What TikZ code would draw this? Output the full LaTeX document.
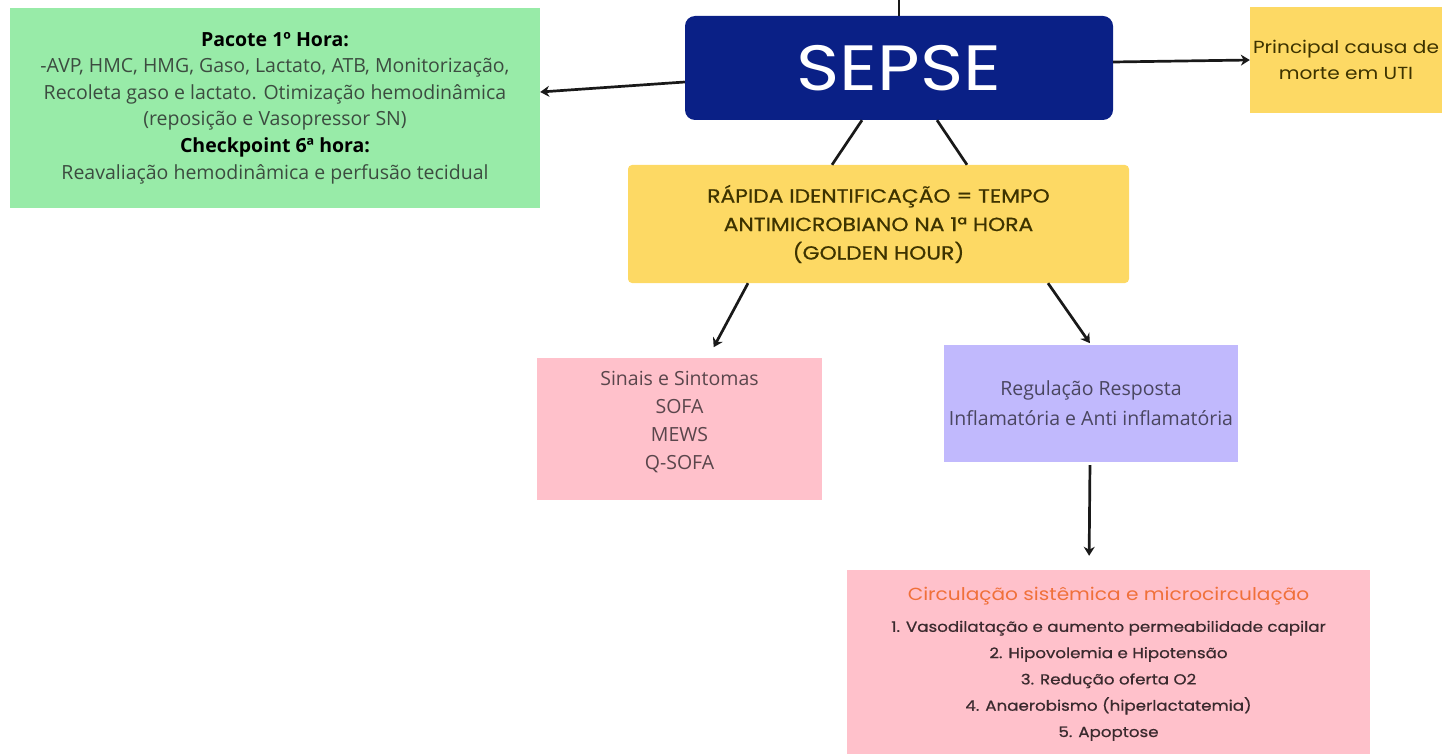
\documentclass[tikz,border=0pt]{standalone}
\usepackage{fontspec}
\setmainfont{Open Sans}
\newfontfamily\popW[FakeStretch=1.15]{Poppins}
\newfontfamily\popM[FakeStretch=1.15,FakeBold=0.6]{Poppins}
\newfontfamily\opn{Open Sans}
\usetikzlibrary{arrows.meta}
\definecolor{gbox}{HTML}{98EBA8}
\definecolor{navy}{HTML}{0A2086}
\definecolor{ybox}{HTML}{FDD964}
\definecolor{pbox}{HTML}{FFC1CB}
\definecolor{lbox}{HTML}{C1B9FD}
\definecolor{gtext}{HTML}{3C4C40}
\definecolor{ytext}{HTML}{3D3300}
\definecolor{ptext}{HTML}{5A464C}
\definecolor{ltext}{HTML}{4A4660}
\definecolor{otext}{HTML}{F0703A}
\definecolor{btext}{HTML}{3A2A2E}
\tikzset{
  box/.style={inner sep=0pt, align=center, anchor=center},
  txt/.style={inner sep=0pt, align=center, anchor=center},
  conn/.style={line width=2.7pt, black!90},
  arr/.style={conn, -{Stealth[length=9pt,width=11pt]}},
}
\begin{document}
\begin{tikzpicture}[x=1pt,y=-1pt]
\useasboundingbox (0,0) rectangle (1456,754);
% boxes
\node[box, fill=gbox, minimum width=530pt, minimum height=200pt, font=\opn\fontsize{19.5}{26.6}\selectfont, text=gtext] (green) at (275,108)
 {\textbf{\color{black}Pacote 1º Hora:}\\-AVP, HMC, HMG, Gaso, Lactato, ATB, Monitorização,\\Recoleta gaso e lactato. Otimização hemodinâmica\\(reposição e Vasopressor SN)\\\textbf{\color{black}Checkpoint 6ª hora:}\\Reavaliação hemodinâmica e perfusão tecidual};
\node[box, fill=navy, rounded corners=10pt, minimum width=428pt, minimum height=104pt, text=white, font=\popW\fontsize{64}{70}\selectfont] (sepse) at (899,68) {SEPSE};
\node[box, fill=ybox, minimum width=192pt, minimum height=106pt, text=ytext, font=\popW\fontsize{17.5}{26}\selectfont] (causa) at (1346,60) {Principal causa de\\morte em UTI};
\node[box, fill=ybox, rounded corners=4pt, minimum width=501pt, minimum height=118pt, text=ytext, font=\popM\fontsize{19}{28.5}\selectfont] (mid) at (878.5,224) {RÁPIDA IDENTIFICAÇÃO = TEMPO\\ANTIMICROBIANO NA 1ª HORA\\(GOLDEN HOUR)};
\node[box, fill=pbox, minimum width=285pt, minimum height=142pt] (sinais) at (679.5,429) {};
\node[txt, text=ptext, font=\opn\fontsize{19.5}{28}\selectfont] (sinaisT) at (679.5,422) {Sinais e Sintomas\\SOFA\\MEWS\\Q-SOFA};
\node[box, fill=lbox, minimum width=294pt, minimum height=117pt, text=ltext, font=\opn\fontsize{19.5}{30}\selectfont] (reg) at (1091,403.5) {Regulação Resposta\\Inflamatória e Anti inflamatória};
\node[box, fill=pbox, minimum width=523pt, minimum height=186pt] (circ) at (1108.5,663) {};
\node[txt, text=btext, font=\popM\fontsize{14.5}{26.3}\selectfont] (circT) at (1108.5,664) {{\popW\color{otext}\fontsize{17.5}{20}\selectfont Circulação sistêmica e microcirculação}\\[5pt]1. Vasodilatação e aumento permeabilidade capilar\\2. Hipovolemia e Hipotensão\\3. Redução oferta O2\\4. Anaerobismo (hiperlactatemia)\\5. Apoptose};
% connectors
\coordinate (top) at (899,0);
\draw[conn] (top) -- (sepse.north);
\draw[arr] ([yshift=-14pt]sepse.west) -- ([yshift=16pt]green.east);
\draw[arr] ([yshift=6pt]sepse.east) -- (causa.west);
\draw[conn] ([xshift=-37pt]sepse.south) -- ([xshift=-46.5pt]mid.north);
\draw[conn] ([xshift=38pt]sepse.south) -- ([xshift=88.5pt]mid.north);
\draw[arr, shorten >=12pt] ([xshift=-130.5pt]mid.south) -- ([xshift=28.5pt]sinais.north);
\draw[arr, shorten >=2pt] ([xshift=169.5pt]mid.south) -- (reg.north);
\draw[arr, shorten <=3pt, shorten >=14pt] ([xshift=-1pt]reg.south) -- ([xshift=-19.5pt]circ.north);
\end{tikzpicture}
\end{document}
